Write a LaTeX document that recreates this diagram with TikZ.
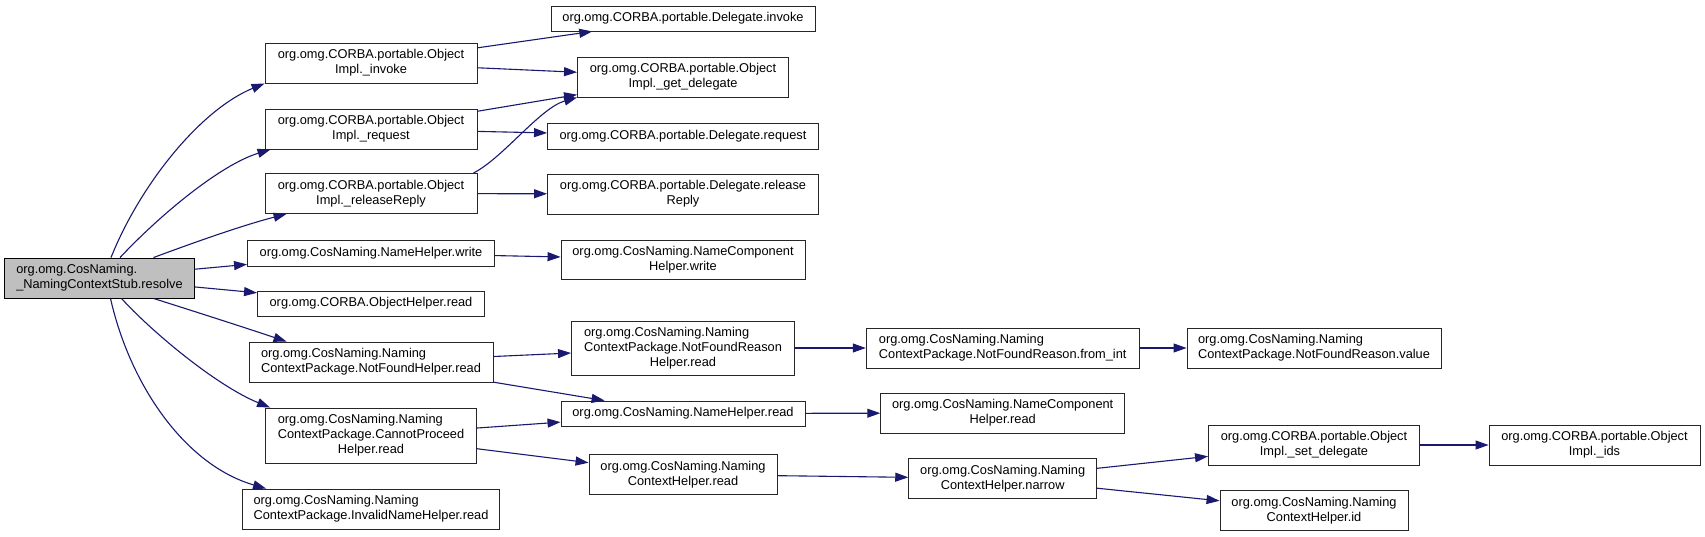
\documentclass[tikz,border=0pt]{standalone}
\usepackage{fontspec}
\setmainfont{Liberation Sans}
\usetikzlibrary{arrows.meta}
\definecolor{edgeblue}{HTML}{191970}
\definecolor{curgray}{HTML}{BFBFBF}

\begin{document}
\begin{tikzpicture}[x=1pt, y=-1pt,
    fn/.style={draw=black!85, line width=0.9pt, fill=white, inner sep=2pt, align=center,
        font=\fontsize{12.8}{15}\selectfont, minimum height=40pt},
    cur/.style={fn, fill=curgray, draw=black},
    call/.style={edgeblue, line width=1.1pt, -{Triangle[length=13pt, width=9pt]}}]
    % Page frame, same size as the graph
    \fill[white] (0,0) rectangle (1705,537);
    \useasboundingbox (0,0) rectangle (1705,537);

    % The function whose call graph is shown
    \node[cur, minimum width=190pt, align=left] (resolve) at (99.5,278) {org.omg.CosNaming.\\\_NamingContextStub.resolve};

    % First column of callees
    \node[fn, minimum width=212pt] (invoke) at (371,63) {org.omg.CORBA.portable.Object\\Impl.\_invoke};
    \node[fn, minimum width=212pt] (request) at (371,129) {org.omg.CORBA.portable.Object\\Impl.\_request};
    \node[fn, minimum width=212pt] (release) at (371,193.5) {org.omg.CORBA.portable.Object\\Impl.\_releaseReply};
    \node[fn, minimum width=247pt, minimum height=26pt] (namewrite) at (371,253) {org.omg.CosNaming.NameHelper.write};
    \node[fn, minimum width=227pt, minimum height=25pt] (objread) at (371,303.5) {org.omg.CORBA.ObjectHelper.read};
    \node[fn, minimum width=244pt, align=left] (notfound) at (371,362) {org.omg.CosNaming.Naming\\ContextPackage.NotFoundHelper.read};
    \node[fn, minimum width=211pt, minimum height=55pt] (cannot) at (371,435.5) {\begin{tabular}{@{}l@{}}org.omg.CosNaming.Naming\\ContextPackage.CannotProceed\\\multicolumn{1}{@{}c@{}}{Helper.read}\end{tabular}};
    \node[fn, minimum width=257pt, align=left] (invalid) at (371,509) {org.omg.CosNaming.Naming\\ContextPackage.InvalidNameHelper.read};

    % Second column
    \node[fn, minimum width=264pt, minimum height=25pt] (dinvoke) at (683,18.5) {org.omg.CORBA.portable.Delegate.invoke};
    \node[fn, minimum width=211pt] (getdel) at (683,77) {org.omg.CORBA.portable.Object\\Impl.\_get\_delegate};
    \node[fn, minimum width=271pt, minimum height=26pt] (drequest) at (683,136) {org.omg.CORBA.portable.Delegate.request};
    \node[fn, minimum width=271pt] (drelease) at (683,194) {org.omg.CORBA.portable.Delegate.release\\Reply};
    \node[fn, minimum width=244pt, minimum height=39pt] (ncwrite) at (683,259.5) {org.omg.CosNaming.NameComponent\\Helper.write};
    \node[fn, minimum width=223pt, minimum height=54pt] (nfreason) at (683,348) {\begin{tabular}{@{}l@{}}org.omg.CosNaming.Naming\\ContextPackage.NotFoundReason\\\multicolumn{1}{@{}c@{}}{Helper.read}\end{tabular}};
    \node[fn, minimum width=244pt, minimum height=25pt] (nameread) at (683,413.5) {org.omg.CosNaming.NameHelper.read};
    \node[fn, minimum width=188pt] (ncread) at (683,474.5) {org.omg.CosNaming.Naming\\ContextHelper.read};

    % Third column
    \node[fn, minimum width=273pt, align=left] (fromint) at (1002.7,348) {org.omg.CosNaming.Naming\\ContextPackage.NotFoundReason.from\_int};
    \node[fn, minimum width=244pt] (ncompread) at (1002.7,413) {org.omg.CosNaming.NameComponent\\Helper.read};
    \node[fn, minimum width=188pt] (narrow) at (1002.7,478.5) {org.omg.CosNaming.Naming\\ContextHelper.narrow};

    % Fourth and fifth column
    \node[fn, minimum width=254pt, align=left] (value) at (1314,348) {org.omg.CosNaming.Naming\\ContextPackage.NotFoundReason.value};
    \node[fn, minimum width=211pt] (setdel) at (1314,445) {org.omg.CORBA.portable.Object\\Impl.\_set\_delegate};
    \node[fn, minimum width=188pt] (ncid) at (1314,510.5) {org.omg.CosNaming.Naming\\ContextHelper.id};
    \node[fn, minimum width=211pt] (ids) at (1594.5,445) {org.omg.CORBA.portable.Object\\Impl.\_ids};

    % Calls made by resolve (curved ones fan out up and down)
    \draw[call] ([xshift=11.5pt]resolve.north) .. controls (140,185) and (200,110) .. (invoke.south west);
    \draw[call] ([xshift=20.5pt]resolve.north) .. controls (160,215) and (220,165) .. ([xshift=6pt]request.south west);
    \draw[call] ([xshift=54pt]resolve.north) .. controls (190,244) and (240,226) .. ([xshift=22pt]release.south west);
    \draw[call] (resolve) -- (namewrite);
    \draw[call] (resolve) -- (objread);
    \draw[call] ([xshift=54pt]resolve.south) .. controls (190,310) and (240,326) .. ([xshift=38pt]notfound.north west);
    \draw[call] ([xshift=22pt]resolve.south) .. controls (150,330) and (215,385) .. ([xshift=5pt]cannot.north west);
    \draw[call] ([xshift=11pt]resolve.south) .. controls (130,385) and (185,465) .. ([xshift=24pt]invalid.north west);

    % Calls from the first column
    \draw[call] (invoke) -- (dinvoke);
    \draw[call] (invoke) -- (getdel);
    \draw[call] (request) -- (getdel);
    \draw[call] (request) -- (drequest);
    \draw[call] ([xshift=-4pt]release.north east) .. controls (503,158) and (540,108) .. (getdel.south west);
    \draw[call] (release) -- (drelease);
    \draw[call] (namewrite) -- (ncwrite);
    \draw[call] (notfound) -- (nfreason);
    \draw[call] (notfound) -- (nameread);
    \draw[call] (cannot) -- (nameread);
    \draw[call] (cannot) -- (ncread);

    % Further down the chain
    \draw[call] (nfreason) -- (fromint);
    \draw[call] (fromint) -- (value);
    \draw[call] (nameread) -- (ncompread);
    \draw[call] (ncread) -- (narrow);
    \draw[call] (narrow) -- (setdel);
    \draw[call] (narrow) -- (ncid);
    \draw[call] (setdel) -- (ids);
\end{tikzpicture}
\end{document}
